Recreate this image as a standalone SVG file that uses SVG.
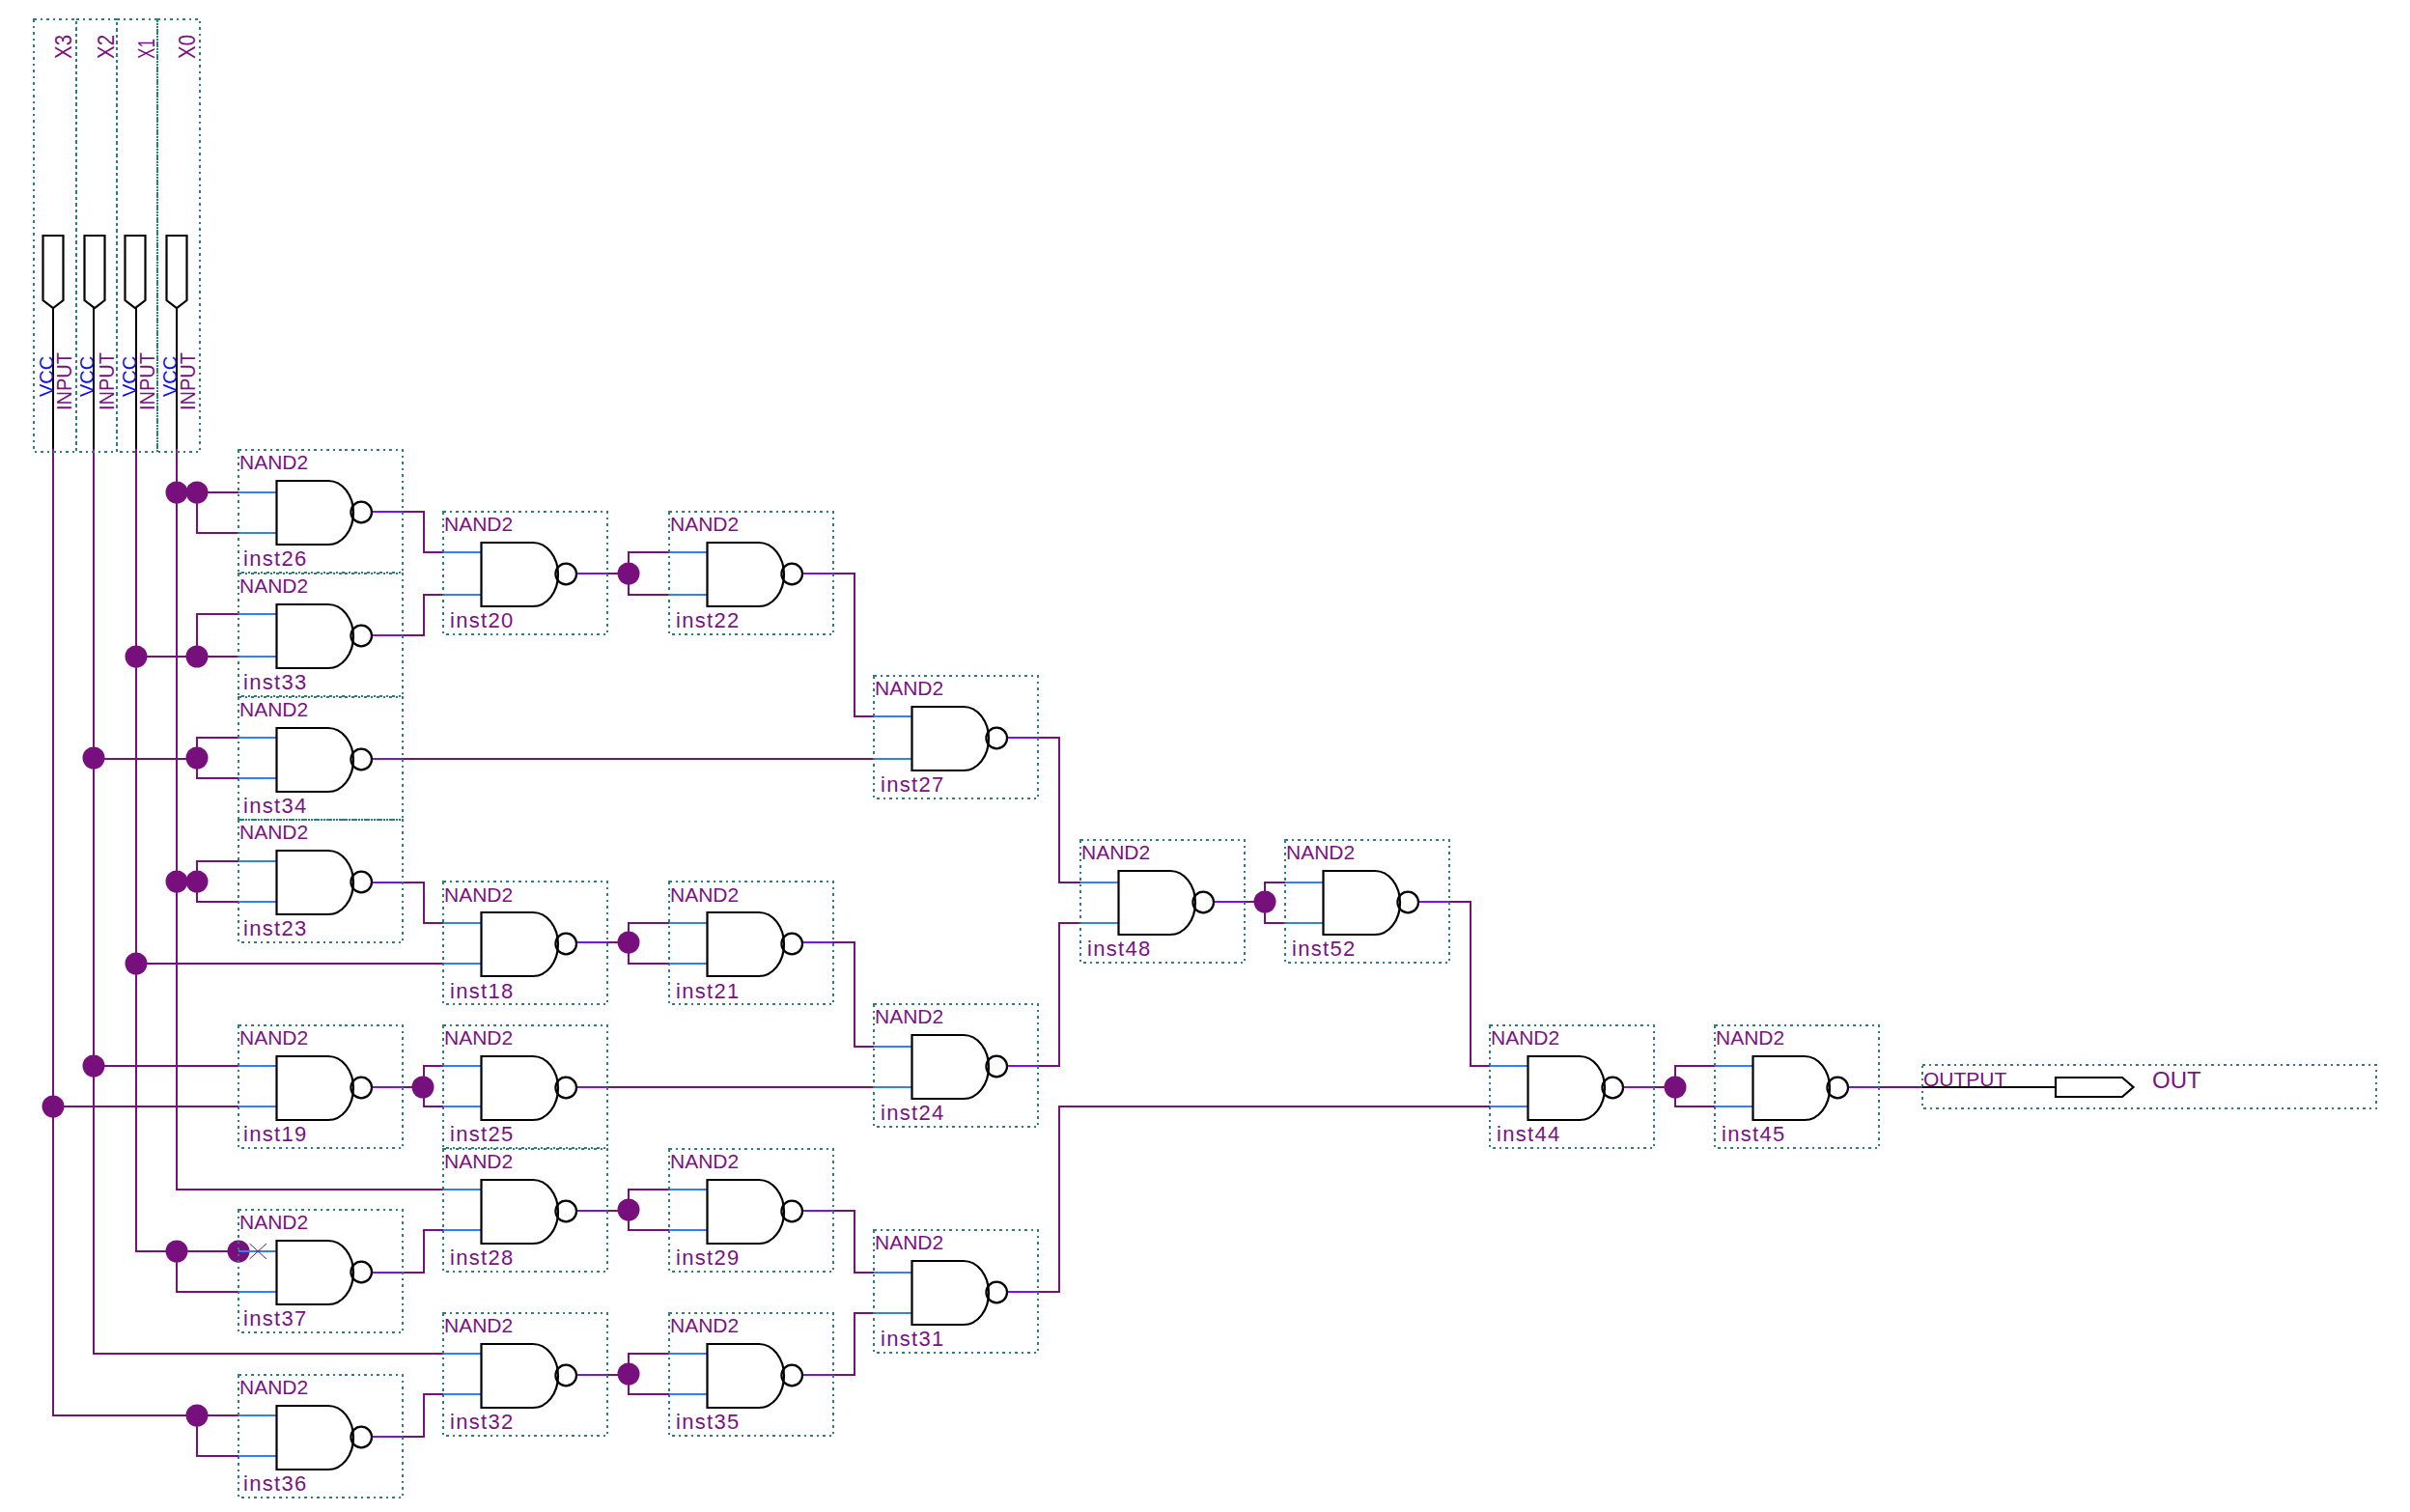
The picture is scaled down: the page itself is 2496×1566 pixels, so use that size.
<svg xmlns="http://www.w3.org/2000/svg" width="2496" height="1566" viewBox="0 0 2496 1566">
<style>
text{font-family:"Liberation Sans",Arial,sans-serif;fill:#7a1280}
.n{font-size:21px}
.i{font-size:22px;letter-spacing:1.3px}
.v{font-size:20px;fill:#1010f0}
.o{font-size:24px}
.xl{font-size:24px}
.pl{font-size:22px}
.box{fill:none;stroke:#2e7d78;stroke-width:2;stroke-dasharray:2.5 4;shape-rendering:crispEdges}
.blk{fill:#fff;stroke:#000;stroke-width:2.2}
.bub{fill:none;stroke:#000;stroke-width:2.2}
.bw{fill:none;stroke:#000;stroke-width:2.2;shape-rendering:crispEdges}
.w{fill:none;stroke:#77107d;stroke-width:2;shape-rendering:crispEdges}
.pi{stroke:#2f7fff;stroke-width:2;shape-rendering:crispEdges}
.po{stroke:#7a10f5;stroke-width:2;shape-rendering:crispEdges}
.d{fill:#77107d;stroke:none}
.x{stroke:#77107d;stroke-width:1;fill:none}
</style>
<defs>
<g id="nand">
<rect class="box" x="0" y="0" width="170" height="127"/>
<path class="blk" d="M39.5 32H93A26 33 0 0 1 93 98H39.5Z"/>
<circle class="bub" cx="127.200" cy="64.500" r="10.800"/>
</g>
<path id="pin" class="blk" d="M-10.500 0H10.500V67L0 75L-10.500 67Z"/>
</defs>
<g id="connectors">
<path class="w" d="M55 465V1466H247M55 1146H247"/>
<path class="w" d="M97 465V1402H459M97 786H204M97 1104H247"/>
<path class="w" d="M141 465V1296H247M141 680H247M141 998H459"/>
<path class="w" d="M183 465V1232H459M183 510H204M183 913H204M183 1296V1338H247"/>
<path class="w" d="M204 510H247M204 510V552H247"/>
<path class="w" d="M247 636H204V680"/>
<path class="w" d="M247 764H204V806H247"/>
<path class="w" d="M247 892H204V934H247"/>
<path class="w" d="M204 1466V1508H247"/>
<path class="w" d="M417 530H439V572H459"/>
<path class="w" d="M417 658H439V616H459"/>
<path class="w" d="M417 786H905"/>
<path class="w" d="M417 914H439V956H459"/>
<path class="w" d="M417 1126H439M459 1104H439V1146H459"/>
<path class="w" d="M629 1126H905"/>
<path class="w" d="M417 1318H439V1274H459"/>
<path class="w" d="M417 1488H439V1444H459"/>
<path class="w" d="M629 594H651M693 572H651V616H693"/>
<path class="w" d="M629 976H651M693 956H651V998H693"/>
<path class="w" d="M629 1254H651M693 1232H651V1274H693"/>
<path class="w" d="M629 1424H651M693 1402H651V1444H693"/>
<path class="w" d="M863 594H885V742H905"/>
<path class="w" d="M863 976H885V1084H905"/>
<path class="w" d="M863 1254H885V1318H905"/>
<path class="w" d="M863 1424H885V1360H905"/>
<path class="w" d="M1075 764H1097V914H1119"/>
<path class="w" d="M1075 1104H1097V956H1119"/>
<path class="w" d="M1075 1338H1097V1146H1543"/>
<path class="w" d="M1289 934H1310M1331 914H1310V956H1331"/>
<path class="w" d="M1501 934H1523V1104H1543"/>
<path class="w" d="M1713 1126H1735M1776 1104H1735V1146H1776"/>
<path class="w" d="M1946 1126H1991"/>
<g id="junctions">
<circle class="d" cx="183" cy="510" r="11.500"/><circle class="d" cx="204" cy="510" r="11.500"/>
<circle class="d" cx="141" cy="680" r="11.500"/><circle class="d" cx="204" cy="680" r="11.500"/>
<circle class="d" cx="97" cy="785" r="11.500"/><circle class="d" cx="204" cy="785" r="11.500"/>
<circle class="d" cx="183" cy="913" r="11.500"/><circle class="d" cx="204" cy="913" r="11.500"/>
<circle class="d" cx="141" cy="998" r="11.500"/>
<circle class="d" cx="97" cy="1104" r="11.500"/><circle class="d" cx="55" cy="1146" r="11.500"/>
<circle class="d" cx="438" cy="1126" r="11.500"/>
<circle class="d" cx="183" cy="1296" r="11.500"/><circle class="d" cx="247" cy="1296" r="11.500"/>
<circle class="d" cx="204" cy="1466" r="11.500"/>
<circle class="d" cx="651" cy="594" r="11.500"/><circle class="d" cx="651" cy="976" r="11.500"/>
<circle class="d" cx="651" cy="1253" r="11.500"/><circle class="d" cx="651" cy="1423" r="11.500"/>
<circle class="d" cx="1310" cy="934" r="11.500"/><circle class="d" cx="1735" cy="1126" r="11.500"/>
</g>
</g>
<g id="X3"><rect class="box" x="35" y="20" width="44" height="448"/><use href="#pin" x="55" y="244"/><path class="bw" d="M55 319V465"/><text class="xl" textLength="25" lengthAdjust="spacingAndGlyphs" transform="translate(73.500 61) rotate(-90)">X3</text><text class="pl" textLength="60" lengthAdjust="spacingAndGlyphs" transform="translate(73.500 425) rotate(-90)">INPUT</text><text class="v" transform="translate(55 411) rotate(-90)">VCC</text></g>
<g id="X2"><rect class="box" x="79" y="20" width="42" height="448"/><use href="#pin" x="98" y="244"/><path class="bw" d="M97 319V465"/><text class="xl" textLength="25" lengthAdjust="spacingAndGlyphs" transform="translate(118 61) rotate(-90)">X2</text><text class="pl" textLength="60" lengthAdjust="spacingAndGlyphs" transform="translate(118 425) rotate(-90)">INPUT</text><text class="v" transform="translate(97 411) rotate(-90)">VCC</text></g>
<g id="X1"><rect class="box" x="121" y="20" width="42" height="448"/><use href="#pin" x="140" y="244"/><path class="bw" d="M141 319V465"/><text class="xl" textLength="21" lengthAdjust="spacingAndGlyphs" transform="translate(160 61) rotate(-90)">X1</text><text class="pl" textLength="60" lengthAdjust="spacingAndGlyphs" transform="translate(160 425) rotate(-90)">INPUT</text><text class="v" transform="translate(141 411) rotate(-90)">VCC</text></g>
<g id="X0"><rect class="box" x="163" y="20" width="44" height="448"/><use href="#pin" x="183" y="244"/><path class="bw" d="M183 319V465"/><text class="xl" textLength="25" lengthAdjust="spacingAndGlyphs" transform="translate(202 61) rotate(-90)">X0</text><text class="pl" textLength="60" lengthAdjust="spacingAndGlyphs" transform="translate(202 425) rotate(-90)">INPUT</text><text class="v" transform="translate(183 411) rotate(-90)">VCC</text></g>
<g id="inst26" transform="translate(247 466)"><path class="pi" d="M0 44H40M0 86H40"/><path class="po" d="M138 64H170"/><use href="#nand"/><text class="n" x="1" y="20">NAND2</text><text class="i" x="5" y="120">inst26</text></g>
<g id="inst33" transform="translate(247 594)"><path class="pi" d="M0 42H40M0 86H40"/><path class="po" d="M138 64H170"/><use href="#nand"/><text class="n" x="1" y="20">NAND2</text><text class="i" x="5" y="120">inst33</text></g>
<g id="inst34" transform="translate(247 722)"><path class="pi" d="M0 42H40M0 84H40"/><path class="po" d="M138 64H170"/><use href="#nand"/><text class="n" x="1" y="20">NAND2</text><text class="i" x="5" y="120">inst34</text></g>
<g id="inst23" transform="translate(247 849)"><path class="pi" d="M0 43H40M0 85H40"/><path class="po" d="M138 65H170"/><use href="#nand"/><text class="n" x="1" y="20">NAND2</text><text class="i" x="5" y="120">inst23</text></g>
<g id="inst19" transform="translate(247 1062)"><path class="pi" d="M0 42H40M0 84H40"/><path class="po" d="M138 64H170"/><use href="#nand"/><text class="n" x="1" y="20">NAND2</text><text class="i" x="5" y="120">inst19</text></g>
<g id="inst37" transform="translate(247 1253)"><path class="pi" d="M0 43H40M0 85H40"/><path class="po" d="M138 65H170"/><use href="#nand"/><text class="n" x="1" y="20">NAND2</text><text class="i" x="5" y="120">inst37</text><path class="x" d="M11.500 35L29 51M29 35L11.500 51"/></g>
<g id="inst36" transform="translate(247 1424)"><path class="pi" d="M0 42H40M0 84H40"/><path class="po" d="M138 64H170"/><use href="#nand"/><text class="n" x="1" y="20">NAND2</text><text class="i" x="5" y="120">inst36</text></g>
<g id="inst20" transform="translate(459 530)"><path class="pi" d="M0 42H40M0 86H40"/><path class="po" d="M138 64H170"/><use href="#nand"/><text class="n" x="1" y="20">NAND2</text><text class="i" x="7" y="120">inst20</text></g>
<g id="inst18" transform="translate(459 914)"><path class="pi" d="M0 42H40M0 84H40"/><path class="po" d="M138 62H170"/><use href="#nand" y="-1"/><text class="n" x="1" y="20">NAND2</text><text class="i" x="7" y="120">inst18</text></g>
<g id="inst25" transform="translate(459 1062)"><path class="pi" d="M0 42H40M0 84H40"/><path class="po" d="M138 64H170"/><use href="#nand"/><text class="n" x="1" y="20">NAND2</text><text class="i" x="7" y="120">inst25</text></g>
<g id="inst28" transform="translate(459 1190)"><path class="pi" d="M0 42H40M0 84H40"/><path class="po" d="M138 64H170"/><use href="#nand"/><text class="n" x="1" y="20">NAND2</text><text class="i" x="7" y="120">inst28</text></g>
<g id="inst32" transform="translate(459 1360)"><path class="pi" d="M0 42H40M0 84H40"/><path class="po" d="M138 64H170"/><use href="#nand"/><text class="n" x="1" y="20">NAND2</text><text class="i" x="7" y="120">inst32</text></g>
<g id="inst22" transform="translate(693 530)"><path class="pi" d="M0 42H40M0 86H40"/><path class="po" d="M138 64H170"/><use href="#nand"/><text class="n" x="1" y="20">NAND2</text><text class="i" x="7" y="120">inst22</text></g>
<g id="inst21" transform="translate(693 914)"><path class="pi" d="M0 42H40M0 84H40"/><path class="po" d="M138 62H170"/><use href="#nand" y="-1"/><text class="n" x="1" y="20">NAND2</text><text class="i" x="7" y="120">inst21</text></g>
<g id="inst29" transform="translate(693 1190)"><path class="pi" d="M0 42H40M0 84H40"/><path class="po" d="M138 64H170"/><use href="#nand"/><text class="n" x="1" y="20">NAND2</text><text class="i" x="7" y="120">inst29</text></g>
<g id="inst35" transform="translate(693 1360)"><path class="pi" d="M0 42H40M0 84H40"/><path class="po" d="M138 64H170"/><use href="#nand"/><text class="n" x="1" y="20">NAND2</text><text class="i" x="7" y="120">inst35</text></g>
<g id="inst27" transform="translate(905 700)"><path class="pi" d="M0 42H40M0 86H40"/><path class="po" d="M138 64H170"/><use href="#nand"/><text class="n" x="1" y="20">NAND2</text><text class="i" x="7" y="120">inst27</text></g>
<g id="inst24" transform="translate(905 1040)"><path class="pi" d="M0 44H40M0 86H40"/><path class="po" d="M138 64H170"/><use href="#nand"/><text class="n" x="1" y="20">NAND2</text><text class="i" x="7" y="120">inst24</text></g>
<g id="inst31" transform="translate(905 1274)"><path class="pi" d="M0 44H40M0 86H40"/><path class="po" d="M138 64H170"/><use href="#nand"/><text class="n" x="1" y="20">NAND2</text><text class="i" x="7" y="120">inst31</text></g>
<g id="inst48" transform="translate(1119 870)"><path class="pi" d="M0 44H40M0 86H40"/><path class="po" d="M138 64H170"/><use href="#nand"/><text class="n" x="1" y="20">NAND2</text><text class="i" x="7" y="120">inst48</text></g>
<g id="inst52" transform="translate(1331 870)"><path class="pi" d="M0 44H40M0 86H40"/><path class="po" d="M138 64H170"/><use href="#nand"/><text class="n" x="1" y="20">NAND2</text><text class="i" x="7" y="120">inst52</text></g>
<g id="inst44" transform="translate(1543 1062)"><path class="pi" d="M0 42H40M0 84H40"/><path class="po" d="M138 64H170"/><use href="#nand"/><text class="n" x="1" y="20">NAND2</text><text class="i" x="7" y="120">inst44</text></g>
<g id="inst45" transform="translate(1776 1062)"><path class="pi" d="M0 42H40M0 84H40"/><path class="po" d="M138 64H170"/><use href="#nand"/><text class="n" x="1" y="20">NAND2</text><text class="i" x="7" y="120">inst45</text></g>
<g id="OUT"><rect class="box" x="1991" y="1103" width="470" height="45"/><path class="bw" d="M1991 1126H2129"/><path class="blk" d="M2129 1116H2198L2209.500 1126L2198 1136H2129Z"/><text class="n" x="1992" y="1125">OUTPUT</text><text class="o" x="2229" y="1127">OUT</text></g>
</svg>
